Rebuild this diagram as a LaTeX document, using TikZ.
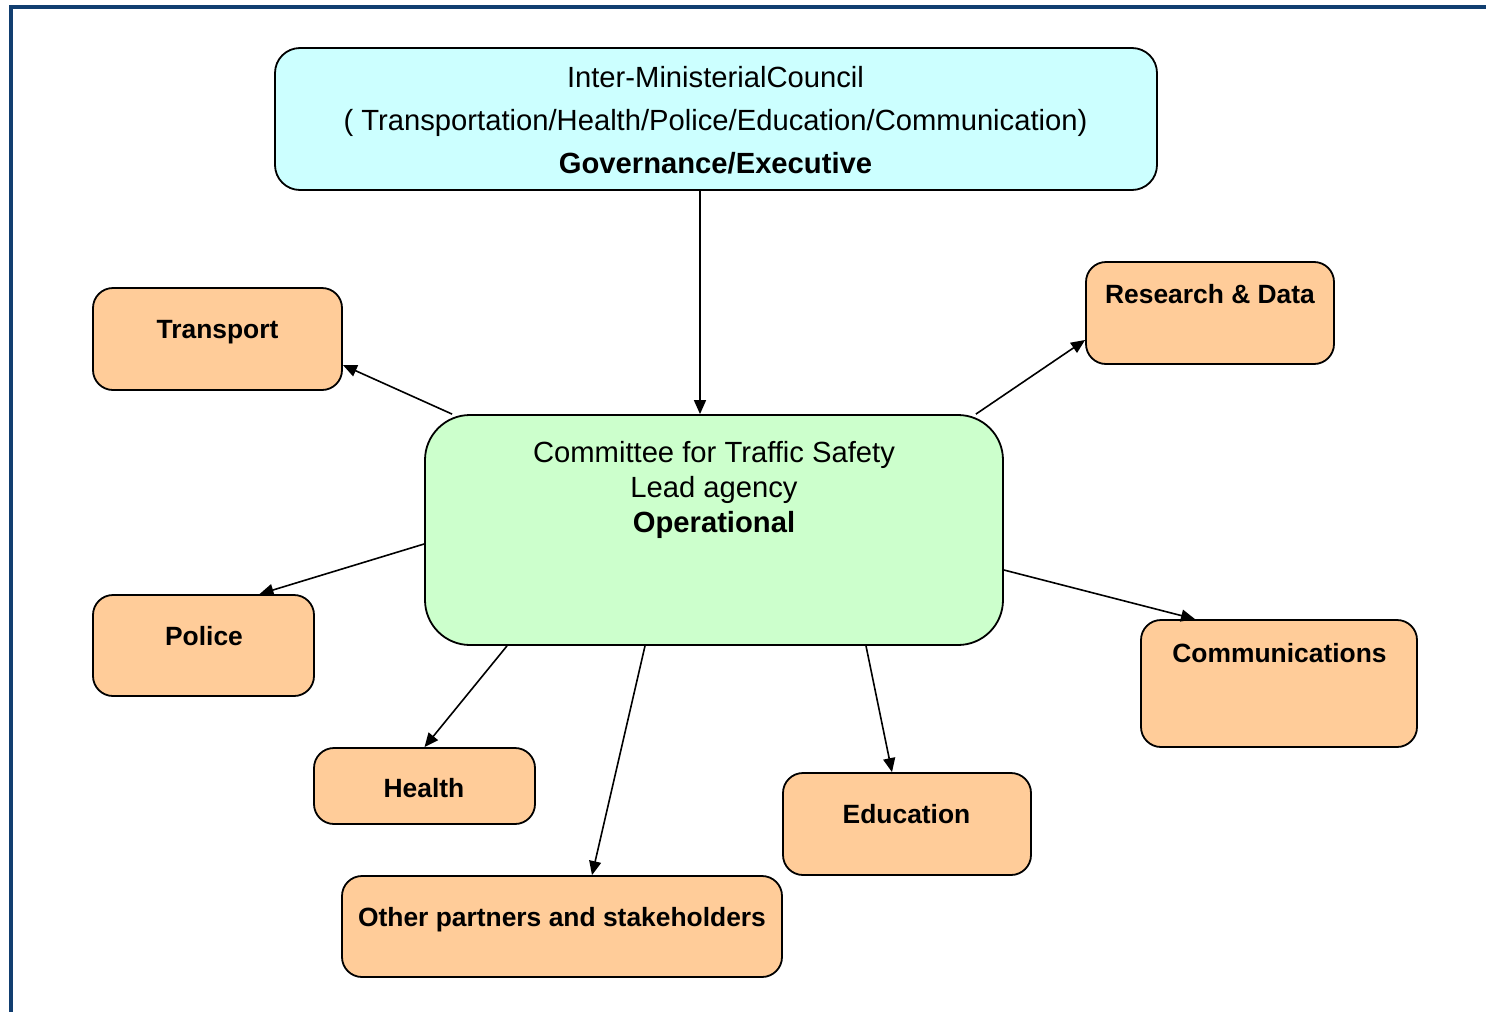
\documentclass[tikz,border=0pt]{standalone}
\usepackage{fontspec}
\setmainfont{Liberation Sans}
\usetikzlibrary{arrows.meta}
\definecolor{frameblue}{HTML}{113E70}
\definecolor{govcyan}{HTML}{CCFFFF}
\definecolor{ctsgreen}{HTML}{CCFFCC}
\definecolor{unitorange}{HTML}{FFCC99}
\tikzset{
  boxbase/.style={draw=black, line width=1.8pt, inner sep=0pt},
  govbox/.style={boxbase, fill=govcyan, rounded corners=25pt},
  ctsbox/.style={boxbase, fill=ctsgreen, rounded corners=45pt},
  unitbox/.style={boxbase, fill=unitorange, rounded corners=20pt},
  bigtxt/.style={anchor=base, inner sep=0pt, font=\fontsize{29.2pt}{35pt}\selectfont},
  bigbold/.style={bigtxt, font=\fontsize{29.2pt}{35pt}\selectfont\bfseries},
  unittxt/.style={anchor=base, inner sep=0pt, font=\fontsize{26.4pt}{32pt}\selectfont\bfseries},
  conn/.style={line width=1.6pt, -{Triangle[length=14pt,width=12pt]}}
}
\begin{document}
\begin{tikzpicture}[x=1pt, y=-1pt]
\useasboundingbox (0,0) rectangle (1486,1012);
\fill[white] (0,0) rectangle (1486,1012);
\draw[frameblue, line width=3.5pt] (1486,7) -- (11,7) -- (11,1012);

% boxes
\node[govbox, minimum width=882pt, minimum height=142pt] (gov) at (716,119) {};
\node[ctsbox, minimum width=578pt, minimum height=230pt] (cts) at (714,530) {};
\node[unitbox, minimum width=249pt, minimum height=102pt] (transport) at (217.5,339) {};
\node[unitbox, minimum width=248pt, minimum height=102pt] (research) at (1210,313) {};
\node[unitbox, minimum width=221pt, minimum height=101pt] (police) at (203.5,645.5) {};
\node[unitbox, minimum width=276pt, minimum height=127pt] (comm) at (1279,683.5) {};
\node[unitbox, minimum width=221pt, minimum height=76pt] (health) at (424.5,786) {};
\node[unitbox, minimum width=248pt, minimum height=102pt] (edu) at (907,824) {};
\node[unitbox, minimum width=440pt, minimum height=101pt] (other) at (562,926.5) {};

% texts
\node[bigtxt] (govl1) at (715.5,87.5) {Inter-MinisterialCouncil};
\node[bigtxt] (govl2) at (715.5,130.5) {( Transportation/Health/Police/Education/Communication)};
\node[bigbold] (govl3) at (715.5,173.5) {Governance/Executive};
\node[bigtxt] (ctsl1) at (714,462.5) {Committee for Traffic Safety};
\node[bigtxt] (ctsl2) at (714,497.5) {Lead agency};
\node[bigbold] (ctsl3) at (714,532.5) {Operational};
\node[unittxt] (transportl) at (217.5,338.5) {Transport};
\node[unittxt] (researchl) at (1210,303.5) {Research \& Data};
\node[unittxt] (policel) at (204,645.5) {Police};
\node[unittxt] (comml) at (1279.5,662.5) {Communications};
\node[unittxt] (healthl) at (424,797.5) {Health};
\node[unittxt] (edul) at (906.5,823.5) {Education};
\node[unittxt] (otherl) at (562,926.5) {Other partners and stakeholders};

% connectors
\draw[conn] ([xshift=-16pt]gov.south) -- ([xshift=-14pt]cts.north);
\draw[conn] ([xshift=28pt]cts.north west) -- ([yshift=-26pt]transport.east);
\draw[conn] ([xshift=-28pt]cts.north east) -- ([yshift=-27pt]research.west);
\draw[conn] ([yshift=-14pt]cts.west) -- ([xshift=56pt]police.north);
\draw[conn] ([yshift=-40pt]cts.east) -- ([xshift=-84pt]comm.north);
\draw[conn] ([xshift=-207pt]cts.south) -- (health.north);
\draw[conn] ([xshift=-69pt]cts.south) -- ([xshift=30pt]other.north);
\draw[conn] ([xshift=152pt]cts.south) -- ([xshift=-15pt]edu.north);
\end{tikzpicture}
\end{document}
